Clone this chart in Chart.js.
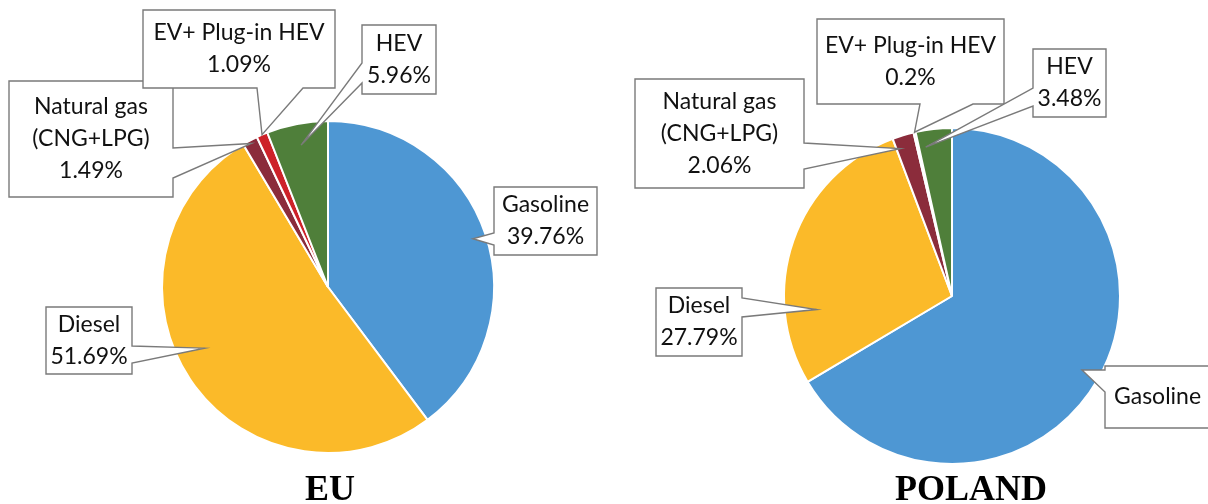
<!DOCTYPE html>
<html>
<head>
<meta charset="utf-8">
<script src="https://cdn.jsdelivr.net/npm/chart.js@4.4.0/dist/chart.umd.min.js"></script>
<style>
  html, body { margin: 0; padding: 0; background: #fff; }
  #wrap { position: relative; width: 1208px; height: 504px; overflow: hidden; }
  canvas { position: absolute; top: 0; }
</style>
</head>
<body>
<div id="wrap">
  <canvas id="euChart" width="604" height="504" style="left:0"></canvas>
  <canvas id="plChart" width="604" height="504" style="left:604px"></canvas>
</div>
<script>
// datos
const categories = [['Gasoline'], ['Diesel'], ['Natural gas', '(CNG+LPG)'], ['EV+ Plug-in HEV'], ['HEV']];
const euValues = [39.76, 51.69, 1.49, 1.09, 5.96];
const plValues = [66.47, 27.79, 2.06, 0.2, 3.48];
const chartTitles = ['EU', 'POLAND'];
const sliceColors = ['#4E97D3', '#FBBA29', '#8B2C3B', '#CD2229', '#4F7F3A'];

const labelFont = '23px Lato';
const lineH = 32;

// cajas de etiquetas (coordenadas locales de cada canvas)
const euCallouts = [
  { box: { x: 494, y: 187, w: 103, h: 68 }, side: 'left', wedge: [46, 58], t: 0.5, rf: 0.92 },
  { box: { x: 46, y: 307, w: 86, h: 67 }, side: 'right', wedge: [39, 56], t: 0.54, rf: 0.83 },
  { box: { x: 9, y: 81, w: 164, h: 116 }, side: 'right', wedge: [67, 97], t: 0.5, rf: 0.98 },
  { box: { x: 143, y: 10, w: 192, h: 78 }, side: 'bottom', wedge: [114, 160], t: 0.5, rf: 1.0 },
  { box: { x: 362, y: 25, w: 74, h: 69 }, side: 'left', wedge: [38, 58], t: 0.5, rf: 0.87 }
];
const plCallouts = [
  { box: { x: 501, y: 366, w: 230, h: 62 }, side: 'left', wedge: [4, 26], t: 0.5, rf: 0.89, inline: true },
  { box: { x: 52, y: 288, w: 86, h: 68 }, side: 'right', wedge: [10, 29], t: 0.25, rf: 0.81 },
  { box: { x: 31, y: 79, w: 169, h: 109 }, side: 'right', wedge: [64, 90], t: 0.17, rf: 0.93 },
  { box: { x: 213, y: 19, w: 187, h: 85 }, side: 'bottom', wedge: [103, 156], t: 0.5, rf: 1.0 },
  { box: { x: 429, y: 49, w: 73, h: 68 }, side: 'left', wedge: [39, 57], t: 0.2, rf: 0.9 }
];

function drawCallout(ctx, c, tip) {
  const { x, y, w, h } = c.box;
  const [a, b] = c.wedge;
  ctx.beginPath();
  ctx.moveTo(x, y);
  ctx.lineTo(x + w, y);
  if (c.side === 'right') { ctx.lineTo(x + w, y + a); ctx.lineTo(tip.x, tip.y); ctx.lineTo(x + w, y + b); }
  ctx.lineTo(x + w, y + h);
  if (c.side === 'bottom') { ctx.lineTo(x + b, y + h); ctx.lineTo(tip.x, tip.y); ctx.lineTo(x + a, y + h); }
  ctx.lineTo(x, y + h);
  if (c.side === 'left') { ctx.lineTo(x, y + b); ctx.lineTo(tip.x, tip.y); ctx.lineTo(x, y + a); }
  ctx.closePath();
  ctx.fillStyle = '#fff';
  ctx.fill();
  ctx.strokeStyle = '#7a7a7a';
  ctx.lineWidth = 1.4;
  ctx.stroke();
}

const calloutPlugin = {
  id: 'callouts',
  afterDatasetsDraw(chart, args, opts) {
    const ctx = chart.ctx;
    const arcs = chart.getDatasetMeta(0).data;
    const values = chart.data.datasets[0].data;
    ctx.save();
    opts.items.forEach((c, i) => {
      const arc = arcs[i].getProps(['x', 'y', 'startAngle', 'endAngle', 'outerRadius'], true);
      const ang = arc.startAngle + (arc.endAngle - arc.startAngle) * c.t;
      const r = arc.outerRadius * c.rf;
      const tip = { x: arc.x + r * Math.cos(ang), y: arc.y + r * Math.sin(ang) };
      drawCallout(ctx, c, tip);

      ctx.fillStyle = '#111';
      ctx.font = labelFont;
      ctx.textBaseline = 'middle';
      const { x, y, w, h } = c.box;
      if (c.inline) {
        // la etiqueta sale cortada por el borde derecho
        ctx.textAlign = 'left';
        const nombre = categories[i].join(' ');
        ctx.fillText(nombre, x + 9, y + h / 2);
        ctx.fillText(values[i] + '%', x + 9 + ctx.measureText(nombre).width + 14, y + h / 2);
      } else {
        const lines = [...categories[i], values[i] + '%'];
        ctx.textAlign = 'center';
        const y0 = y + h / 2 - (lines.length - 1) * lineH / 2;
        lines.forEach((ln, k) => ctx.fillText(ln, x + w / 2, y0 + k * lineH));
      }
    });
    // titulo abajo
    ctx.fillStyle = '#000';
    ctx.font = 'bold 36px "Liberation Serif"';
    ctx.textAlign = 'center';
    ctx.textBaseline = 'alphabetic';
    ctx.fillText(opts.title, opts.titleX, 500);
    ctx.restore();
  }
};

function crearPie(id, values, radius, padding, items, title, titleX) {
  return new Chart(document.getElementById(id).getContext('2d'), {
    type: 'pie',
    data: {
      labels: categories.map(c => c.join(' ')),
      datasets: [{
        data: values,
        backgroundColor: sliceColors,
        borderColor: '#fff',
        borderWidth: 2
      }]
    },
    options: {
      responsive: false,
      animation: false,
      radius: radius,
      layout: { padding: padding },
      plugins: {
        legend: { display: false },
        tooltip: { enabled: false },
        callouts: { items: items, title: title, titleX: titleX }
      }
    },
    plugins: [calloutPlugin]
  });
}

crearPie('euChart', euValues, 166, { left: 162, right: 110, top: 121, bottom: 51 }, euCallouts, chartTitles[0], 330);
crearPie('plChart', plValues, 168, { left: 180, right: 88, top: 128, bottom: 40 }, plCallouts, chartTitles[1], 367);
</script>
</body>
</html>
